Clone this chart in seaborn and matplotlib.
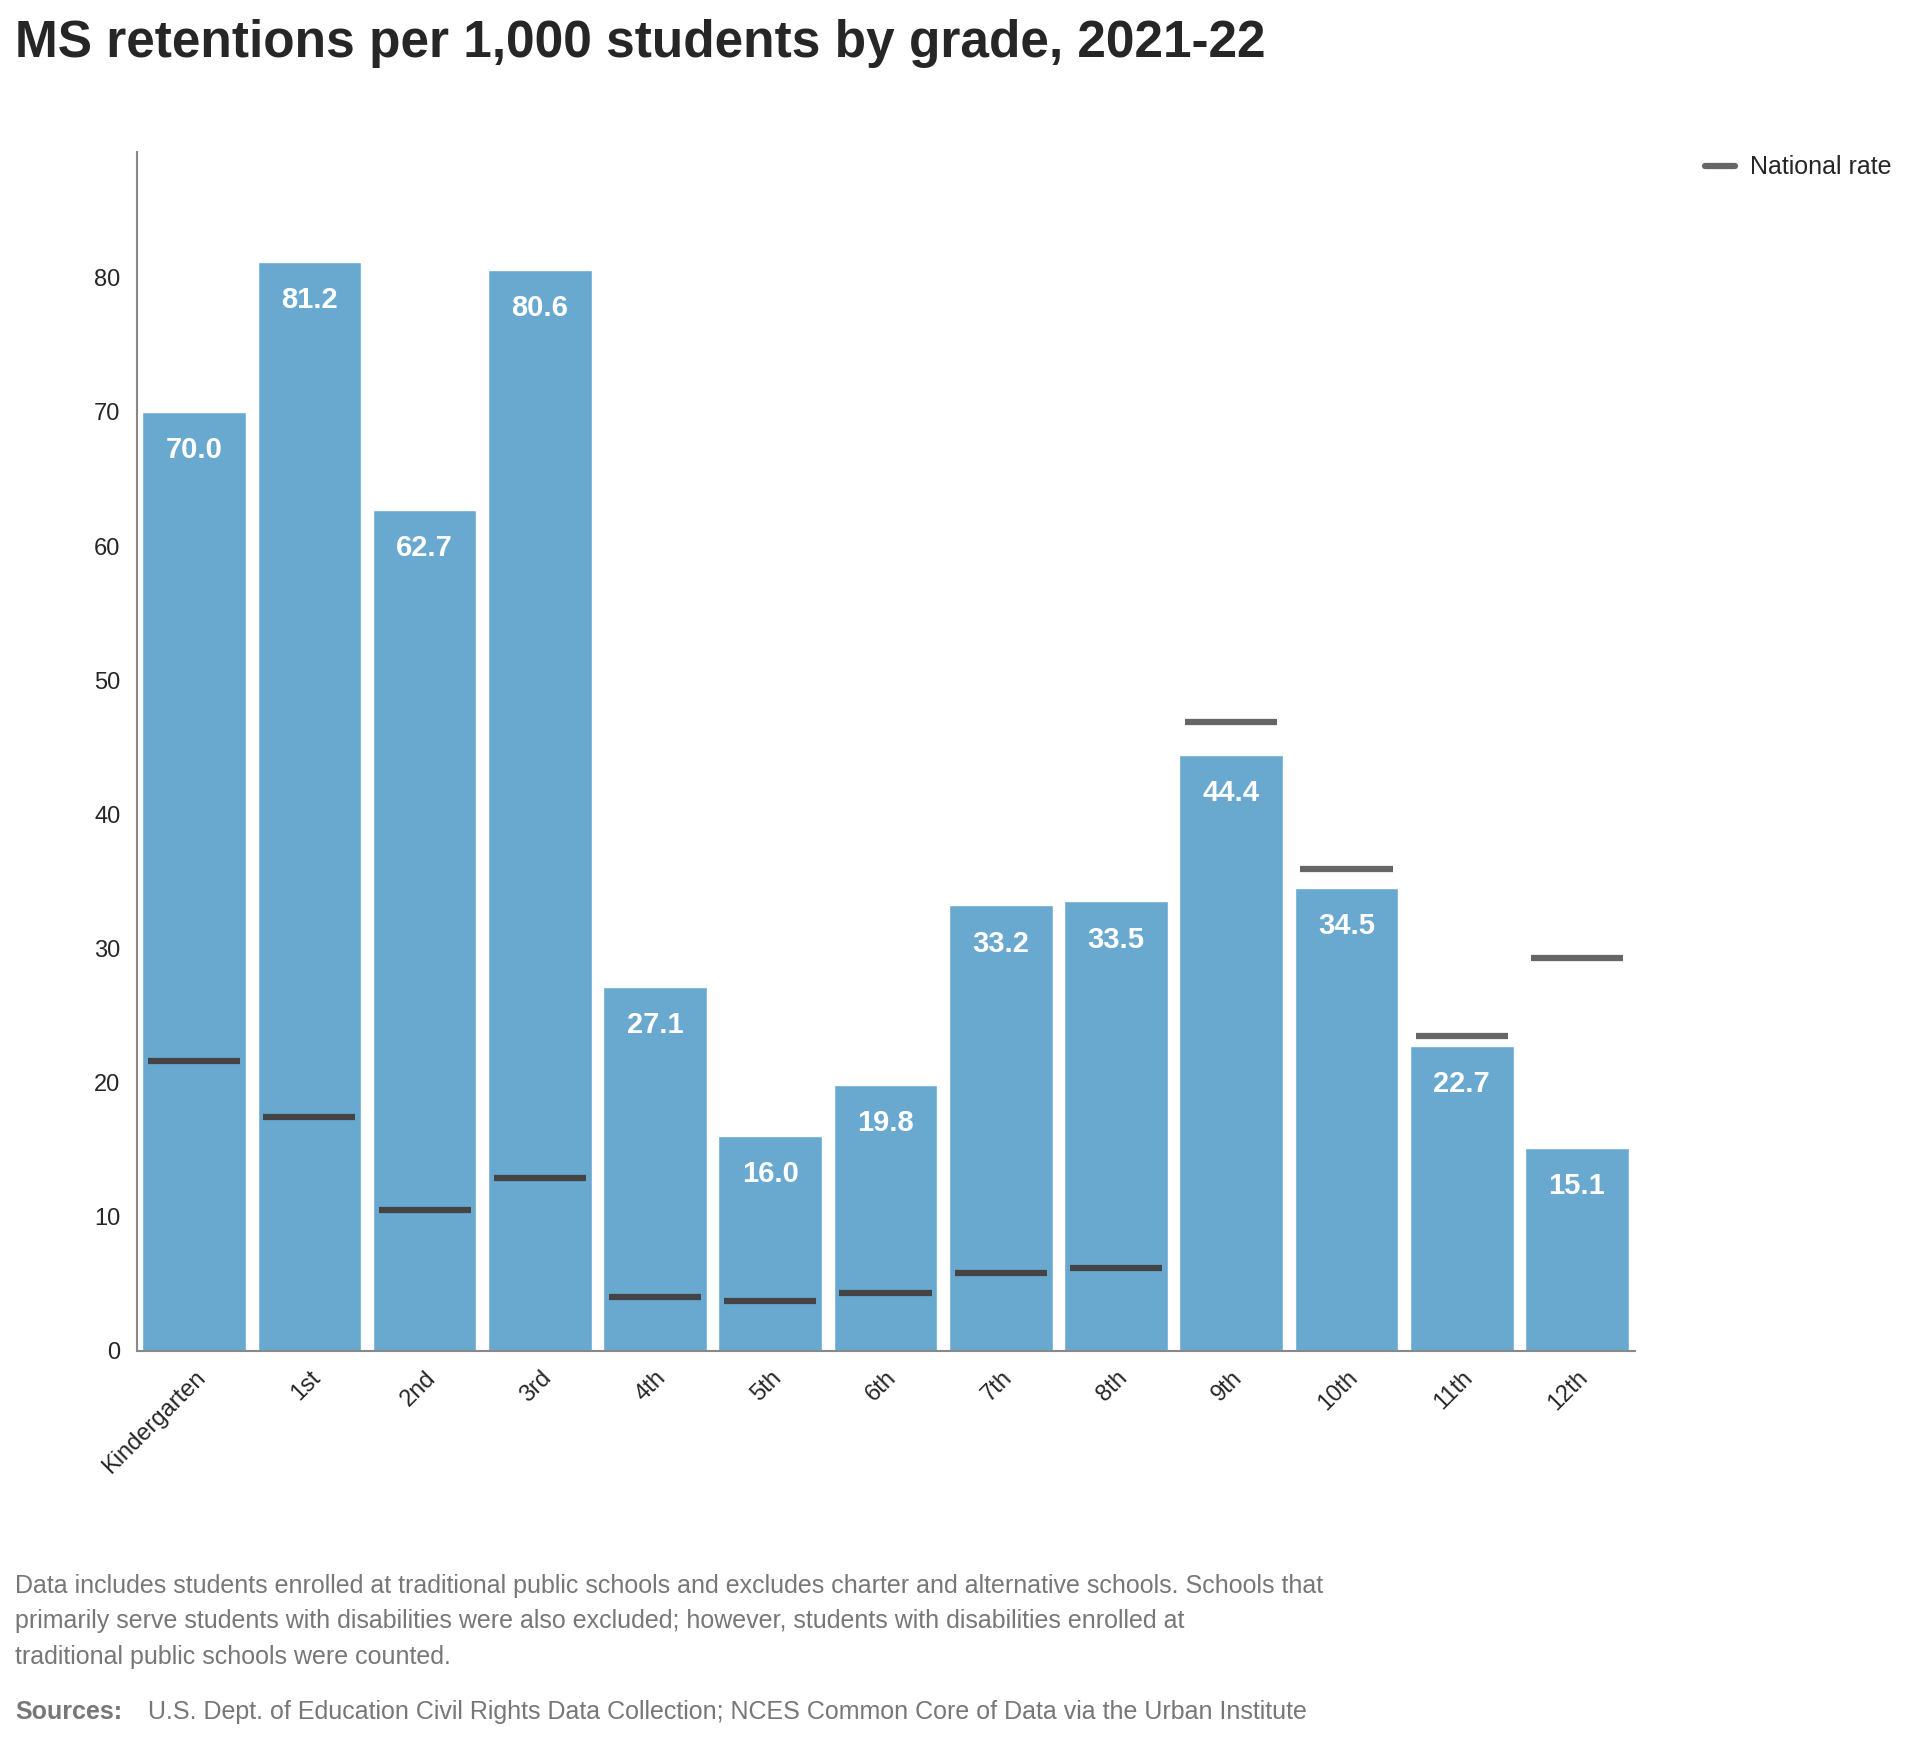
import matplotlib.pyplot as plt
import seaborn as sns
import pandas as pd
import matplotlib.lines as mlines

GRADES = ["Kindergarten", "1st", "2nd", "3rd", "4th", "5th", "6th",
          "7th", "8th", "9th", "10th", "11th", "12th"]
MS_RATE = [70.0, 81.2, 62.7, 80.6, 27.1, 16.0, 19.8, 33.2, 33.5, 44.4, 34.5, 22.7, 15.1]
NATIONAL_RATE = [21.6, 17.4, 10.5, 12.9, 4.0, 3.7, 4.3, 5.8, 6.2, 46.9, 35.9, 23.5, 29.3]

BAR_COLOR = "#69a9d0"
LINE_COLOR = "#444444"
LINE_COLOR_ABOVE = "#666666"

sns.set_style("white")
plt.rcParams["font.family"] = ["Liberation Sans", "DejaVu Sans"]

df = pd.DataFrame({"grade": GRADES, "rate": MS_RATE, "national": NATIONAL_RATE})

fig = plt.figure(figsize=(19.23, 17.43), dpi=100)
ax = fig.add_axes([0.071, 0.225, 0.779, 0.688])
sns.barplot(data=df, x="grade", y="rate", color=BAR_COLOR, width=0.9,
            saturation=1, ax=ax)

for i, (v, n) in enumerate(zip(MS_RATE, NATIONAL_RATE)):
    ax.text(i, v - 1.8, f"{v:.1f}", ha="center", va="top", color="white",
            fontsize=21, fontweight="bold")
    c = LINE_COLOR if n < v else LINE_COLOR_ABOVE
    ax.hlines(n, i - 0.4, i + 0.4, color=c, linewidth=4.5, zorder=5)

ax.set_xlim(-0.5, len(GRADES) - 0.5)
ax.set_ylim(0, 89.4)
ax.set_yticks(range(0, 81, 10))
ax.set_xlabel("")
ax.set_ylabel("")
ax.tick_params(axis="y", labelsize=17, length=8, color="#888888", width=1.5)
ax.tick_params(axis="x", labelsize=17, length=8, color="#888888", width=1.5)
ax.set_xticks(range(len(GRADES)))
ax.set_xticklabels(GRADES, rotation=45, ha="right", rotation_mode="anchor")
sns.despine(ax=ax)
for s in ["left", "bottom"]:
    ax.spines[s].set_color("#888888")
    ax.spines[s].set_linewidth(1.5)

fig.text(0.008, 0.975, "MS retentions per 1,000 students by grade, 2021-22",
         fontsize=37, fontweight="bold", va="center", ha="left")

handle = mlines.Line2D([], [], color="#666666", linewidth=4.5, label="National rate")
fig.legend(handles=[handle], loc="center left", bbox_to_anchor=(0.875, 0.904),
           frameon=False, fontsize=18, handlelength=1.2, handletextpad=0.6)

note = ("Data includes students enrolled at traditional public schools and excludes charter and alternative schools. Schools that\n"
        "primarily serve students with disabilities were also excluded; however, students with disabilities enrolled at\n"
        "traditional public schools were counted.")
fig.text(0.008, 0.097, note, fontsize=18, color="#777777", va="top", ha="left",
         linespacing=1.6)
fig.text(0.008, 0.018, "Sources:", fontsize=18, color="#777777", fontweight="bold",
         va="center", ha="left")
fig.text(0.077, 0.018, "U.S. Dept. of Education Civil Rights Data Collection; NCES Common Core of Data via the Urban Institute",
         fontsize=18, color="#777777", va="center", ha="left")

fig.savefig("out.png", dpi=100)
